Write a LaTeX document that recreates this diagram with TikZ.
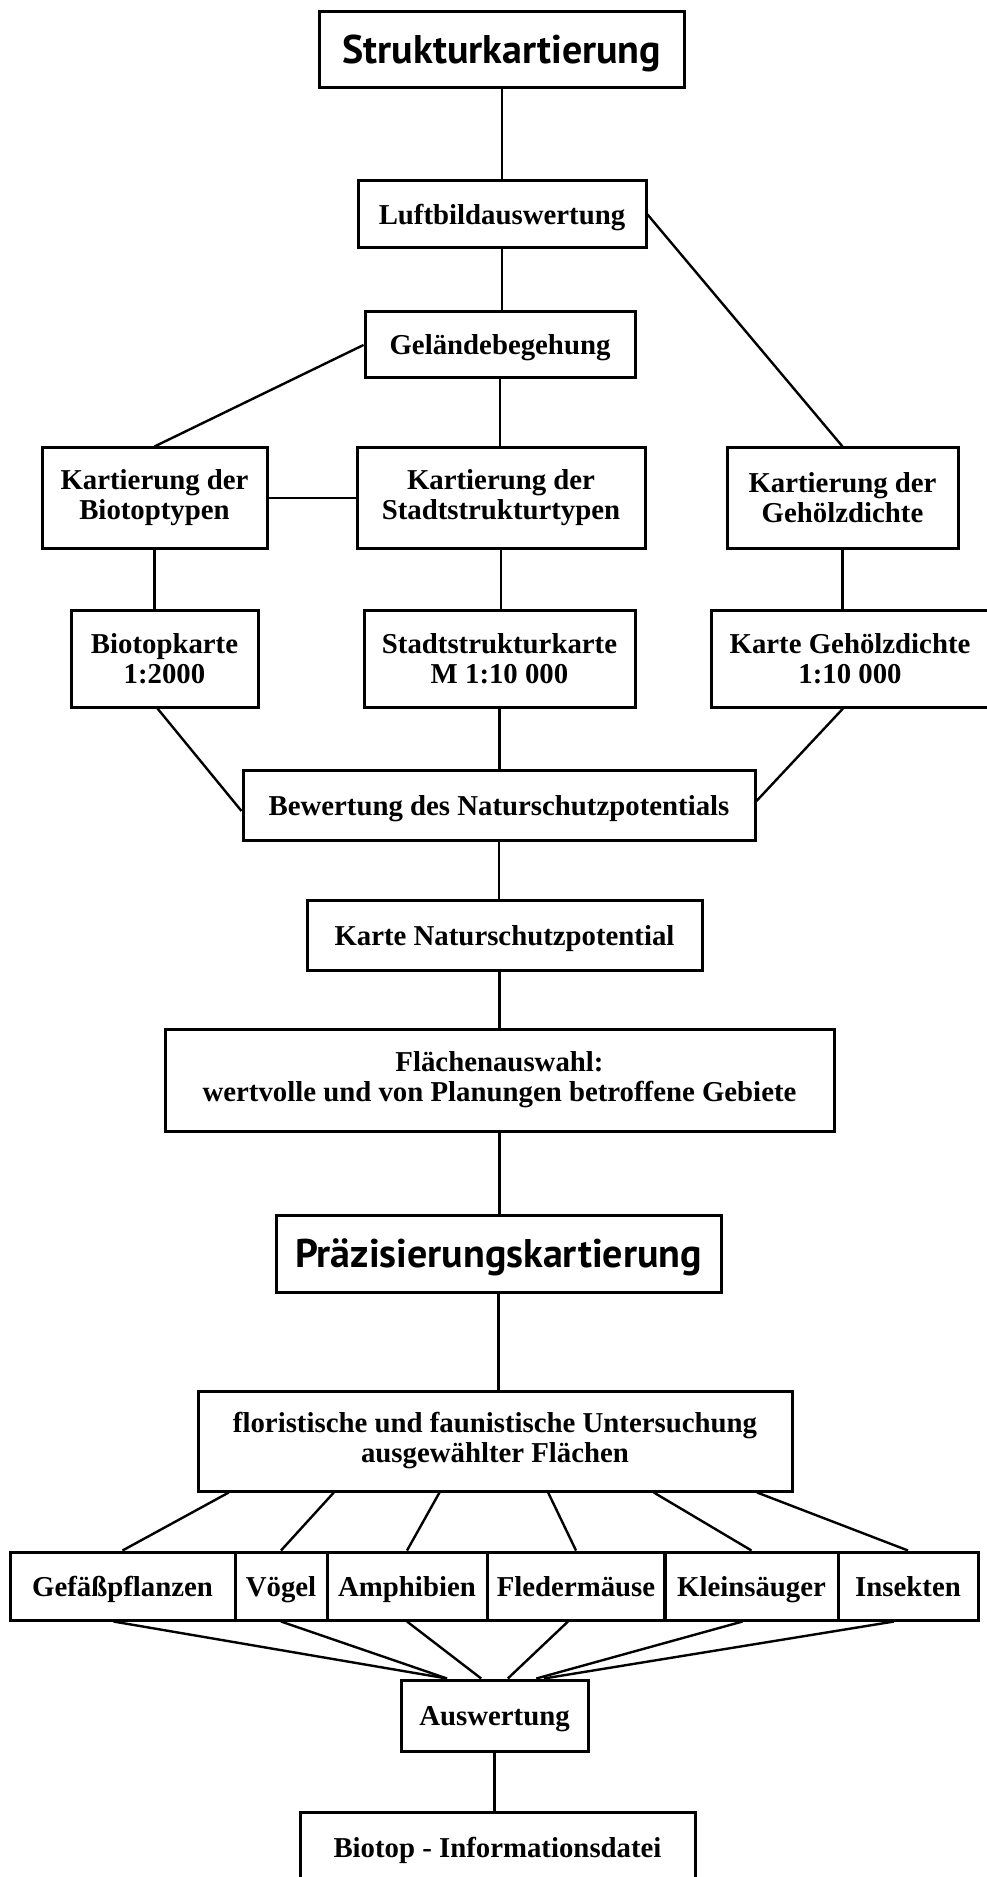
\documentclass[tikz,border=0pt]{standalone}
\usepackage{fontspec}
\setmainfont{Liberation Serif}
\newfontfamily\kopfschrift{PT Sans}
\usetikzlibrary{calc}

\begin{document}
\begin{tikzpicture}[x=0.5pt, y=-0.5pt,
        kasten/.style={draw, line width=1.5pt, inner sep=0pt, align=center,
            font=\bfseries\fontsize{14.4}{15}\selectfont},
        zeile/.style={kasten, text height=10pt, text depth=0pt},
        titel/.style={kasten, text height=14pt, text depth=0pt,
            font=\kopfschrift\bfseries\fontsize{20}{22}\selectfont},
        linie/.style={line width=1.2pt}]
        % Rahmen
        \useasboundingbox (0,0) rectangle (986,1877);
        \fill[white] (0,0) rectangle (986,1877);

        % Strukturkartierung
        \node[titel, minimum width=182.5pt, minimum height=38pt] (struktur) at (502,50) {Strukturkartierung};
        \node[zeile, minimum width=144pt, minimum height=33.5pt] (luftbild) at (502,214.5) {Luftbildauswertung};
        \node[zeile, minimum width=135pt, minimum height=33pt] (gelaende) at (500,345) {Geländebegehung};

        % Kartierungen
        \node[kasten, minimum width=112.5pt, minimum height=50pt] (kartBiotop) at (154.5,498) {Kartierung der\\Biotoptypen};
        \node[kasten, minimum width=144pt, minimum height=50pt] (kartStadt) at (501,498) {Kartierung der\\Stadtstrukturtypen};
        \node[kasten, minimum width=115.5pt, minimum height=50pt] (kartGehoelz) at (842.5,498) {Kartierung der\\Gehölzdichte};

        % Karten
        \node[kasten, minimum width=93.5pt, minimum height=48.5pt] (biotopkarte) at (164.5,658.5) {Biotopkarte\\1:2000};
        \node[kasten, minimum width=135.5pt, minimum height=48.5pt] (stadtkarte) at (499.5,658.5) {Stadtstrukturkarte\\M 1:10 000};
        \node[kasten, minimum width=139pt, minimum height=48.5pt] (gehoelzkarte) at (850,658.5) {Karte Gehölzdichte\\1:10 000};

        % Bewertung
        \node[zeile, minimum width=256pt, minimum height=35pt] (bewertung) at (499,805) {Bewertung des Naturschutzpotentials};
        \node[zeile, minimum width=197.5pt, minimum height=35pt] (naturkarte) at (504.5,935) {Karte Naturschutzpotential};
        \node[kasten, minimum width=334.5pt, minimum height=51pt] (flaechen) at (499.5,1080) {Flächenauswahl:\\wertvolle und von Planungen betroffene Gebiete};

        % Präzisierungskartierung
        \node[titel, minimum width=222.5pt, minimum height=38.5pt] (praez) at (498.5,1253.5) {Präzisierungskartierung};
        \node[kasten, minimum width=297pt, minimum height=50pt] (floristik) at (495,1441) {floristische und faunistische Untersuchung\\ausgewählter Flächen};

        % Artengruppen
        \node[zeile, minimum width=112.5pt, minimum height=34pt] (gefaess) at (122.5,1586) {Gefäßpflanzen};
        \node[zeile, minimum width=46pt, minimum height=34pt] (voegel) at (281,1586) {Vögel};
        \node[zeile, minimum width=80pt, minimum height=34pt] (amphibien) at (407,1586) {Amphibien};
        \node[zeile, minimum width=88.75pt, minimum height=34pt] (fleder) at (576,1586) {Fledermäuse};
        \node[zeile, minimum width=86.5pt, minimum height=34pt] (klein) at (751.5,1586) {Kleinsäuger};
        \node[zeile, minimum width=70pt, minimum height=34pt] (insekten) at (908,1586) {Insekten};

        % Auswertung
        \node[zeile, minimum width=93.5pt, minimum height=35.5pt] (auswertung) at (494.5,1715.5) {Auswertung};
        \node[zeile, minimum width=197.5pt, minimum height=35pt] (datei) at (497.5,1847) {Biotop - Informationsdatei};

        % Senkrechte Verbindungen
        \draw[linie] (struktur.south) -- (struktur.south |- luftbild.north);
        \draw[linie] (luftbild.south) -- (luftbild.south |- gelaende.north);
        \draw[linie] (gelaende.south) -- (gelaende.south |- kartStadt.north);
        \draw[linie] (kartBiotop.south) -- (kartBiotop.south |- biotopkarte.north);
        \draw[linie] (kartStadt.south) -- (kartStadt.south |- stadtkarte.north);
        \draw[linie] (kartGehoelz.south) -- (kartGehoelz.south |- gehoelzkarte.north);
        \draw[linie] (stadtkarte.south) -- (stadtkarte.south |- bewertung.north);
        \draw[linie] (bewertung.south) -- (bewertung.south |- naturkarte.north);
        \draw[linie] (naturkarte.south -| flaechen.north) -- (flaechen.north);
        \draw[linie] (flaechen.south) -- (flaechen.south |- praez.north);
        \draw[linie] (praez.south) -- (praez.south |- floristik.north);
        \draw[linie] (auswertung.south) -- (auswertung.south |- datei.north);

        % Schräge Verbindungen
        \draw[linie] (luftbild.east) -- (kartGehoelz.north);
        \draw[linie] (gelaende.west) -- (kartBiotop.north);
        \draw[linie] (kartBiotop.east) -- (kartStadt.west);
        \draw[linie] ($(biotopkarte.south)+(-7,0)$) -- ($(bewertung.west)+(0,6)$);
        \draw[linie] ($(gehoelzkarte.south)+(-7,0)$) -- ($(bewertung.east)+(0,-4)$);

        % Untersuchung -> Artengruppen
        \draw[linie] ($(floristik.south west)!0.054!(floristik.south east)$) -- (gefaess.north);
        \draw[linie] ($(floristik.south west)!0.23!(floristik.south east)$) -- (voegel.north);
        \draw[linie] ($(floristik.south west)!0.407!(floristik.south east)$) -- (amphibien.north);
        \draw[linie] ($(floristik.south west)!0.589!(floristik.south east)$) -- (fleder.north);
        \draw[linie] ($(floristik.south west)!0.766!(floristik.south east)$) -- (klein.north);
        \draw[linie] ($(floristik.south west)!0.939!(floristik.south east)$) -- (insekten.north);

        % Artengruppen -> Auswertung
        \draw[linie] ($(gefaess.south)+(-9,0)$) -- ($(auswertung.north west)!0.25!(auswertung.north east)$);
        \draw[linie] (voegel.south) -- ($(auswertung.north west)!0.25!(auswertung.north east)$);
        \draw[linie] (amphibien.south) -- ($(auswertung.north west)!0.43!(auswertung.north east)$);
        \draw[linie] ($(fleder.south)+(-8,0)$) -- ($(auswertung.north west)!0.57!(auswertung.north east)$);
        \draw[linie] ($(klein.south)+(-9,0)$) -- ($(auswertung.north west)!0.72!(auswertung.north east)$);
        \draw[linie] ($(insekten.south)+(-14,0)$) -- ($(auswertung.north west)!0.76!(auswertung.north east)$);
\end{tikzpicture}
\end{document}
